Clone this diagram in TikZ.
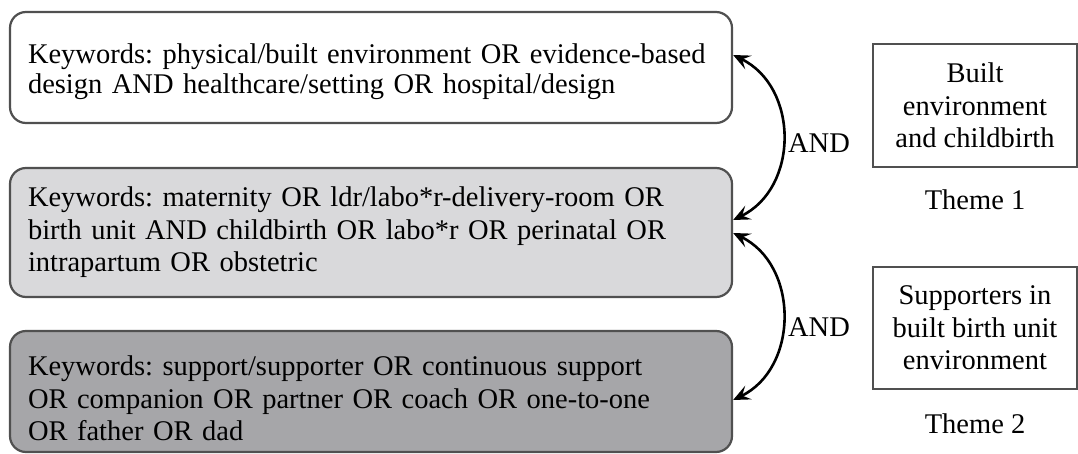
\documentclass[tikz,border=0pt]{standalone}
\usepackage{fontspec}
\setmainfont{Liberation Serif}
\usetikzlibrary{arrows.meta}
\definecolor{lightbox}{RGB}{217,217,219}
\definecolor{darkbox}{RGB}{166,166,169}
\definecolor{edgegray}{RGB}{80,80,80}
\tikzset{
  kwbox/.style={draw=edgegray, line width=2.2pt, rounded corners=16pt, align=left,
    text width=686pt, inner xsep=18pt, inner ysep=0pt, minimum width=722pt, anchor=center},
  themebox/.style={draw=edgegray, line width=2pt, align=center, minimum width=204pt, inner sep=0pt},
  andlink/.style={line width=2.6pt, {Stealth[length=17pt,width=15pt,inset=7pt]}-{Stealth[length=17pt,width=15pt,inset=7pt]}},
  lbl/.style={inner sep=0pt}
}
\begin{document}
\frenchspacing
\begin{tikzpicture}[x=1pt,y=-1pt,font=\fontsize{28.5}{32.5}\selectfont]
\useasboundingbox (0,0) rectangle (1078,454);
\node[kwbox, fill=white, minimum height=111pt, font=\fontsize{28.5}{30}\selectfont] (b1) at (371,67.5)
  {\rule{0pt}{28pt}\mbox{Keywords: physical/built environment OR evidence-based}\\\mbox{design AND healthcare/setting OR hospital/design}};
\node[kwbox, fill=lightbox, minimum height=129pt] (b2) at (371,232.5)
  {\mbox{Keywords: maternity OR ldr/labo*r-delivery-room OR}\\\mbox{birth unit AND childbirth OR labo*r OR perinatal OR}\\\mbox{intrapartum OR obstetric}};
\node[kwbox, fill=darkbox, minimum height=121pt] (b3) at (371,391.5)
  {\rule{0pt}{34pt}\mbox{Keywords: support/supporter OR continuous support}\\\mbox{OR companion OR partner OR coach OR one-to-one}\\\mbox{OR father OR dad}};
\node[themebox, minimum height=123pt] (t1) at (975,105.5)
  {Built\\environment\\and childbirth};
\node[themebox, minimum height=122pt] (t2) at (975,328)
  {Supporters in\\built birth unit\\environment};
\node[lbl] (th1) at (975,200) {Theme 1};
\node[lbl] (th2) at (975,424) {Theme 2};
\node[lbl] (and1) at (819,143) {AND};
\node[lbl] (and2) at (819,327) {AND};
\draw[andlink] ([yshift=12.5pt]b1.east) .. controls +(66,32) and +(66,-32) .. ([yshift=12.5pt]b2.east);
\draw[andlink] ([yshift=-0.5pt]b2.east) .. controls +(66,32) and +(66,-32) .. ([yshift=-8.5pt]b3.east);
\end{tikzpicture}
\end{document}
